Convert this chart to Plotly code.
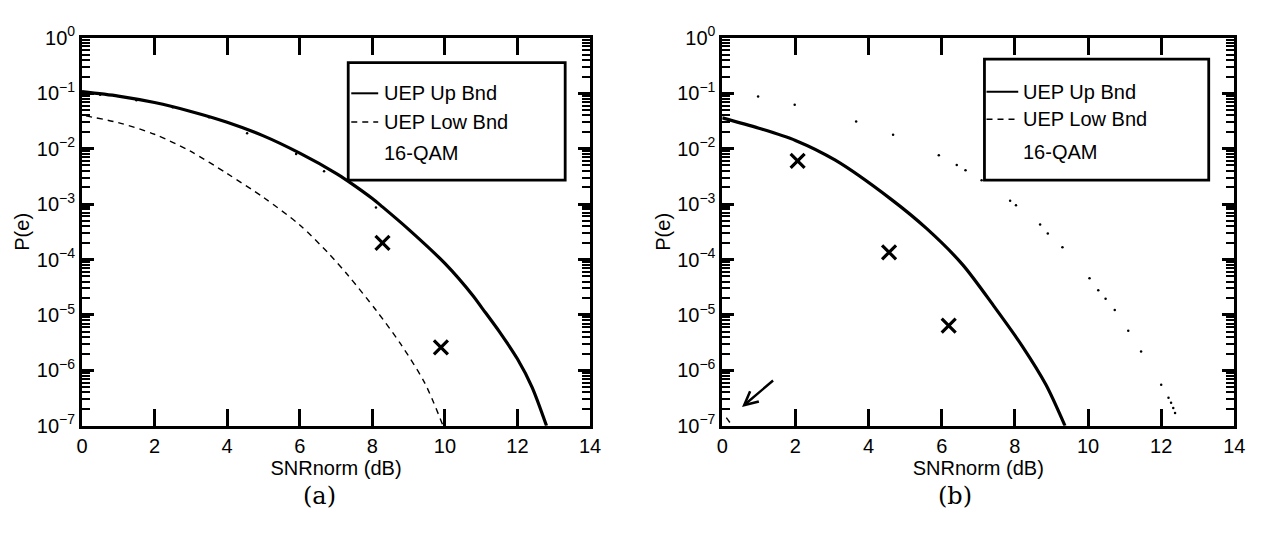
import plotly.graph_objects as go

# ---------------- data ----------------
# Panel (a)
a_up_x = [0, 1, 2, 3, 4, 5, 6, 7, 7.33, 8, 8.28, 9, 10, 10.78, 11, 11.5, 12, 12.4, 12.8]
a_up_y = [0.107, 0.089, 0.068, 0.047, 0.030, 0.017, 0.0083, 0.0036, 0.0026, 0.00126,
          8.9e-4, 3.5e-4, 8.5e-5, 2.2e-5, 1.4e-5, 5.0e-6, 1.6e-6, 5.0e-7, 1.0e-7]
a_low_x = [0.11, 1, 2, 3, 4, 5, 6, 6.78, 7.33, 8.11, 8.78, 9.44, 9.95]
a_low_y = [0.039, 0.0295, 0.0182, 0.0089, 0.00355, 0.00132, 4.2e-4, 1.32e-4, 5.2e-5,
           1.2e-5, 3.0e-6, 6.0e-7, 1.0e-7]
a_qam_x = [0.5, 1.5, 2.5, 3.5, 4.55, 5.9, 6.67, 8.1]
a_qam_y = [0.094, 0.075, 0.056, 0.037, 0.019, 0.008, 0.0039, 0.00087]
a_sim_x = [8.28, 9.89]
a_sim_y = [2.0e-4, 2.6e-6]

# Panel (b)
b_up_x = [0, 1, 2, 3.09, 4.61, 5.59, 6.57, 7.44, 8.2, 8.85, 9.37]
b_up_y = [0.036, 0.0234, 0.0141, 0.0062, 0.00123, 3.6e-4, 8.1e-5, 1.4e-5, 2.75e-6,
          5.5e-7, 1.0e-7]
b_low_x = [0.11, 0.25]
b_low_y = [1.4e-7, 1.05e-7]
b_qam_x = [0.98, 1.98, 3.66, 4.67, 5.92, 6.41, 6.65, 7.09, 7.87, 8.03, 8.69, 8.9, 9.3,
           10.04, 10.28, 10.48, 10.73, 11.1, 11.45, 12.0, 12.2, 12.27, 12.33, 12.38]
b_qam_y = [0.087, 0.062, 0.031, 0.0178, 0.0076, 0.0051, 0.0041, 0.0027, 0.00115, 0.00095,
           4.3e-4, 2.95e-4, 1.66e-4, 4.6e-5, 2.8e-5, 1.95e-5, 1.23e-5, 5.2e-6, 2.2e-6,
           5.5e-7, 3.2e-7, 2.6e-7, 2.1e-7, 1.7e-7]
b_sim_x = [2.06, 4.56, 6.19]
b_sim_y = [6.0e-3, 1.35e-4, 6.4e-6]

x_ticks = [0, 2, 4, 6, 8, 10, 12, 14]
y_exps = [0, -1, -2, -3, -4, -5, -6, -7]
legend_labels = ["UEP Up Bnd", "UEP Low Bnd", "16-QAM"]
captions = ["(a)", "(b)"]

# ---------------- figure ----------------
W, H = 1270, 534
FONT = "Liberation Sans, Arial, Helvetica, sans-serif"
TICKCOL = "black"
fig = go.Figure()

panels = [
    dict(xa="x", ya="y", up=(a_up_x, a_up_y), low=(a_low_x, a_low_y),
         qam=(a_qam_x, a_qam_y), sim=(a_sim_x, a_sim_y)),
    dict(xa="x2", ya="y2", up=(b_up_x, b_up_y), low=(b_low_x, b_low_y),
         qam=(b_qam_x, b_qam_y), sim=(b_sim_x, b_sim_y)),
]
for p in panels:
    fig.add_trace(go.Scatter(x=p["up"][0], y=p["up"][1], mode="lines",
                             line=dict(color="black", width=3.2, shape="spline",
                                       smoothing=0.8),
                             xaxis=p["xa"], yaxis=p["ya"], showlegend=False))
    fig.add_trace(go.Scatter(x=p["low"][0], y=p["low"][1], mode="lines",
                             line=dict(color="black", width=1.4, dash="6px,5px",
                                       shape="spline", smoothing=0.8),
                             xaxis=p["xa"], yaxis=p["ya"], showlegend=False))
    fig.add_trace(go.Scatter(x=p["qam"][0], y=p["qam"][1], mode="markers",
                             marker=dict(color="black", size=2.5),
                             xaxis=p["xa"], yaxis=p["ya"], showlegend=False))
    fig.add_trace(go.Scatter(x=p["sim"][0], y=p["sim"][1], mode="markers",
                             marker=dict(symbol="x-thin", size=14, color="black",
                                         line=dict(color="black", width=3.2)),
                             xaxis=p["xa"], yaxis=p["ya"], showlegend=False))

minor_vals = [m * 10.0 ** e for e in range(-7, 0) for m in range(2, 10)]
yticktext = ["10<sup>%d</sup>" % e if e == 0 else "10<sup>\u2212%d</sup>" % (-e) for e in y_exps]
ytickvals = [10.0 ** e for e in y_exps]

top_px, bot_px = 25, 432
ydom = [1 - bot_px / H, 1 - top_px / H]
xdoms = [[77 / W, 592 / W], [726 / W, 1245 / W]]

TICKFONT = dict(family=FONT, size=20, color="black")
TITLEFONT = dict(family=FONT, size=20, color="black")
for i, suf in enumerate(["", "2"]):
    fig.layout["xaxis" + suf] = dict(
        domain=xdoms[i], range=[0, 14], tickvals=x_ticks, ticks="inside",
        ticklen=17, tickwidth=3, tickcolor=TICKCOL, showline=True, linecolor="black",
        linewidth=2.8, mirror="allticks", showgrid=False, zeroline=False, anchor="y" + suf,
        tickfont=TICKFONT,
        title=dict(text="SNRnorm (dB)", font=TITLEFONT, standoff=0))
    fig.layout["yaxis" + suf] = dict(
        domain=ydom, type="log", range=[-7, 0], tickvals=ytickvals, ticktext=yticktext,
        ticks="inside", ticklen=12, tickwidth=3, tickcolor=TICKCOL, showline=True,
        linecolor="black", linewidth=2.8, mirror="allticks", showgrid=False,
        zeroline=False, anchor="x" + suf, tickfont=TICKFONT,
        minor=dict(tickmode="array", tickvals=minor_vals, ticks="inside", ticklen=8,
                   tickwidth=1.6, tickcolor=TICKCOL),
        title=dict(text="P(e)", font=TITLEFONT, standoff=2))

# manual legends (box, line samples, labels) in axis-domain coordinates
legend_geo = [
    dict(x0=0.524, x1=0.951, y0=0.633, y1=0.936, rows=[0.857, 0.783, 0.703],
         ls=[0.530, 0.583], tx=0.590),
    dict(x0=0.512, x1=0.950, y0=0.633, y1=0.945, rows=[0.861, 0.790, 0.706],
         ls=[0.516, 0.578], tx=0.584),
]
shapes, annotations = [], []
for i, suf in enumerate(["", "2"]):
    g = legend_geo[i]
    xr, yr = "x%s domain" % suf, "y%s domain" % suf
    shapes.append(dict(type="rect", xref=xr, yref=yr, x0=g["x0"], x1=g["x1"],
                       y0=g["y0"], y1=g["y1"], line=dict(color="black", width=2.8),
                       fillcolor="white", layer="above"))
    shapes.append(dict(type="line", xref=xr, yref=yr, x0=g["ls"][0], x1=g["ls"][1],
                       y0=g["rows"][0], y1=g["rows"][0], line=dict(color="black", width=2),
                       layer="above"))
    shapes.append(dict(type="line", xref=xr, yref=yr, x0=g["ls"][0], x1=g["ls"][1],
                       y0=g["rows"][1], y1=g["rows"][1],
                       line=dict(color="black", width=1.4, dash="6px,5px"), layer="above"))
    for r, lab in zip(g["rows"], legend_labels):
        annotations.append(dict(xref=xr, yref=yr, x=g["tx"], y=r, text=lab, showarrow=False,
                                xanchor="left", yanchor="middle",
                                font=dict(family=FONT, size=20, color="black")))

# captions
for cx, cap in zip([318 / W, 962 / W], captions):
    annotations.append(dict(xref="paper", yref="paper", x=cx, y=1 - 506 / H, text=cap,
                            showarrow=False, xanchor="center", yanchor="middle",
                            font=dict(family="DejaVu Serif, Liberation Serif, serif",
                                      size=24, color="black")))

# arrow in panel (b)
annotations.append(dict(xref="x2", yref="y2", axref="x2", ayref="y2",
                        x=0.54, y=-6.66, ax=1.43, ay=-6.16, text="", showarrow=True,
                        arrowhead=5, arrowsize=1.1, arrowwidth=2.4, arrowcolor="black"))

fig.update_layout(width=W, height=H, margin=dict(l=0, r=0, t=0, b=0),
                  paper_bgcolor="white", plot_bgcolor="white", showlegend=False,
                  shapes=shapes, annotations=annotations)

fig.write_html("out.html")
